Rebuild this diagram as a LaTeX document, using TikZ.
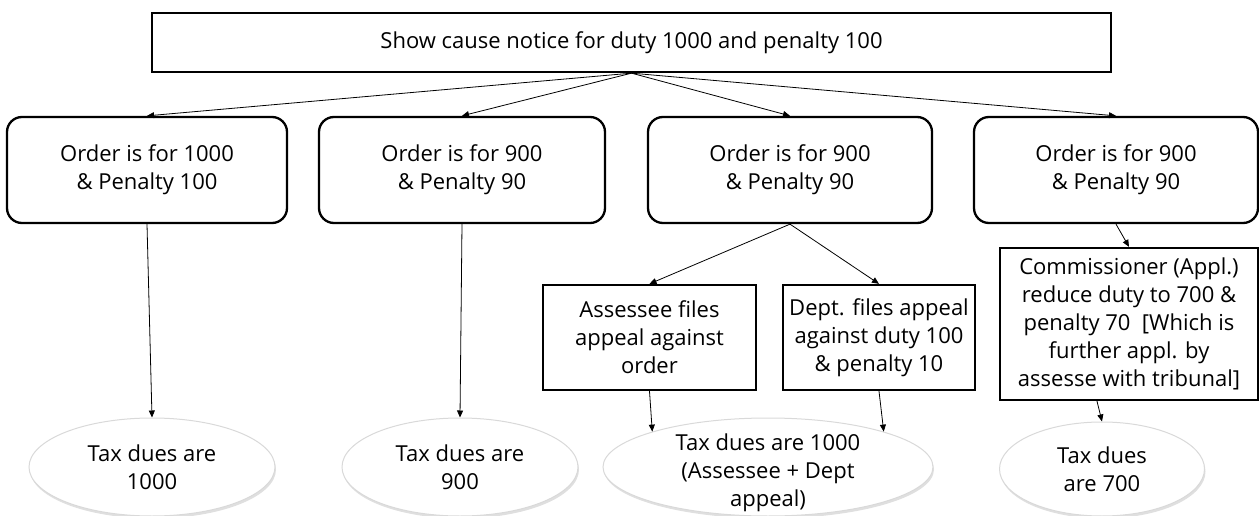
\documentclass[tikz,border=0pt]{standalone}
\usepackage{fontspec}
\setmainfont{Open Sans}
\usetikzlibrary{arrows.meta,shadows,shapes.geometric}

\begin{document}
\begin{tikzpicture}[x=1pt, y=-1pt, line width=0.8pt,
    font=\fontsize{22}{28}\selectfont,
    order/.style={draw, line width=2.3pt, rounded corners=15pt, align=center, inner sep=0pt, minimum height=106pt},
    plain/.style={draw, line width=2.3pt, align=center, inner sep=0pt},
    taxdue/.style={ellipse, draw=gray!30, line width=1pt, fill=white, inner sep=0pt,
      drop shadow={shadow xshift=1pt, shadow yshift=-2.5pt, opacity=0.25}},
    taxtext/.style={align=center, inner sep=0pt},
    link/.style={-{Triangle[length=7pt, width=6pt]}}]
  \useasboundingbox (0,0) rectangle (1259,516);
  \coordinate (T) at (631.5,42.5);
  \coordinate (O1) at (147,170); \coordinate (O2) at (462,170);
  \coordinate (O3) at (790,170); \coordinate (O4) at (1116,170);
  \node[plain, minimum width=959pt, minimum height=59pt] (notice) at (T) {Show cause notice for duty 1000 and penalty 100};
  \node[order, minimum width=280pt] (ord1) at (O1) {Order is for 1000\\ \& Penalty 100};
  \node[order, minimum width=286pt] (ord2) at (O2) {Order is for 900\\ \& Penalty 90};
  \node[order, minimum width=284pt] (ord3) at (O3) {Order is for 900\\ \& Penalty 90};
  \node[order, minimum width=284pt] (ord4) at (O4) {Order is for 900\\ \& Penalty 90};
  \node[plain, minimum width=213pt, minimum height=105pt] (assessee) at (649.5,337.5) {Assessee files\\ appeal against\\ order};
  \node[plain, minimum width=192pt, minimum height=105pt] (dept) at (879,337.5) {Dept. files appeal\\ against duty 100\\ \& penalty 10};
  \node[plain, minimum width=258pt, minimum height=152pt] (commr) at (1129,324) {Commissioner (Appl.)\\ reduce duty to 700 \&\\ penalty 70~ [Which is\\ further appl. by\\ assesse with tribunal]};
  \node[taxdue, minimum width=246pt, minimum height=98pt,
    label={[taxtext]center:{Tax dues are\\ 1000}}] (due1) at (152,467) {};
  \node[taxdue, minimum width=236pt, minimum height=98pt,
    label={[taxtext]center:{Tax dues are\\ 900}}] (due2) at (460,467) {};
  \node[taxdue, minimum width=330pt, minimum height=98pt,
    label={[taxtext, yshift=-6pt]center:{Tax dues are 1000\\ (Assessee + Dept\\ appeal)}}] (due3) at (768,467) {};
  \node[taxdue, minimum width=205pt, minimum height=94pt,
    label={[taxtext]center:{Tax dues\\ are 700}}] (due4) at (1102,469) {};
  % notice to orders
  \draw[link] (notice.south) -- (ord1.north);
  \draw[link] (notice.south) -- (ord2.north);
  \draw[link] (notice.south) -- (ord3.north);
  \draw[link] (notice.south) -- (ord4.north);
  % orders to dues
  \draw[link] (ord1.south) -- (due1.north);
  \draw[link] (ord2.south) -- (due2.north);
  \draw[link] (ord3.south) -- (assessee.north);
  \draw[link] (ord3.south) -- (dept.north);
  \draw[link] (assessee.south) -- (due3.163);
  \draw[link] (dept.south) -- (due3.17);
  \draw[link] (ord4.south) -- (commr.north);
  \draw[link] ([xshift=-32pt]commr.south) -- (due4.north);
\end{tikzpicture}
\end{document}
